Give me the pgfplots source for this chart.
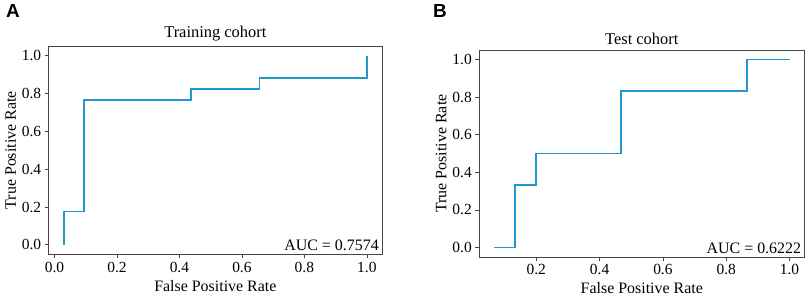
\documentclass[border=0pt]{standalone}
\usepackage{pgfplots}
\pgfplotsset{compat=1.18}
\usepackage{fontspec}
\setmainfont{Liberation Serif}
\newfontfamily\panelfont{Liberation Sans}
\definecolor{roc}{RGB}{33,150,207}
\definecolor{axgray}{RGB}{70,70,70}
\pgfplotsset{
  rocstyle/.style={
    scale only axis,
    axis line style={axgray, line width=0.8pt},
    tick style={axgray, line width=0.7pt},
    tick align=outside,
    major tick length=4bp,
    xtick pos=bottom, ytick pos=left,
    ymin=-0.05, ymax=1.05,
    ytick={0,0.2,0.4,0.6,0.8,1.0},
    xtick={0,0.2,0.4,0.6,0.8,1.0},
    /pgf/number format/assume math mode=true,
    /pgf/number format/fixed, /pgf/number format/fixed zerofill,
    /pgf/number format/precision=1,
    tick label style={font=\fontsize{15.5}{17}\selectfont},
    label style={font=\fontsize{16}{18}\selectfont},
    title style={font=\fontsize{16.5}{18}\selectfont, yshift=-4bp},
    xlabel={False Positive Rate},
    ylabel={True Positive Rate},
    xlabel style={yshift=-1bp},
    ylabel style={yshift=-1bp},
    clip=false,
  }
}
\begin{document}
\begin{tikzpicture}
\path[use as bounding box] (0bp,0bp) rectangle (809bp,-299bp);
\node[anchor=north west, inner sep=0pt, font=\panelfont\bfseries\fontsize{19}{21}\selectfont] at (6bp,-4bp) {A};
\node[anchor=north west, inner sep=0pt, font=\panelfont\bfseries\fontsize{19}{21}\selectfont] at (433bp,-4bp) {B};
\begin{axis}[rocstyle,
  at={(48.7bp,-254.3bp)}, anchor=south west,
  width=333.3bp, height=208bp,
  xmin=-0.0185, xmax=1.0485,
  title={Training cohort}]
\addplot[roc, line width=1.7pt] coordinates {
(0.03125,0) (0.03125,0.17647) (0.09375,0.17647) (0.09375,0.76471)
(0.4375,0.76471) (0.4375,0.82353) (0.65625,0.82353) (0.65625,0.88235)
(1.0,0.88235) (1.0,1.0)};
\node[anchor=south east, inner sep=3bp, font=\fontsize{16}{18}\selectfont] at (rel axis cs:1,0) {AUC = 0.7574};
\end{axis}
\begin{axis}[rocstyle,
  at={(479.3bp,-257bp)}, anchor=south west,
  width=325bp, height=207bp,
  xmin=0.02, xmax=1.0467,
  xtick={0.2,0.4,0.6,0.8,1.0},
  title={Test cohort}]
\addplot[roc, line width=1.7pt] coordinates {
(0.06667,0) (0.13333,0) (0.13333,0.33333) (0.2,0.33333) (0.2,0.5)
(0.46667,0.5) (0.46667,0.83333) (0.86667,0.83333) (0.86667,1.0) (1.0,1.0)};
\node[anchor=south east, inner sep=3bp, font=\fontsize{16}{18}\selectfont] at (rel axis cs:1,0) {AUC = 0.6222};
\end{axis}
\end{tikzpicture}
\end{document}
